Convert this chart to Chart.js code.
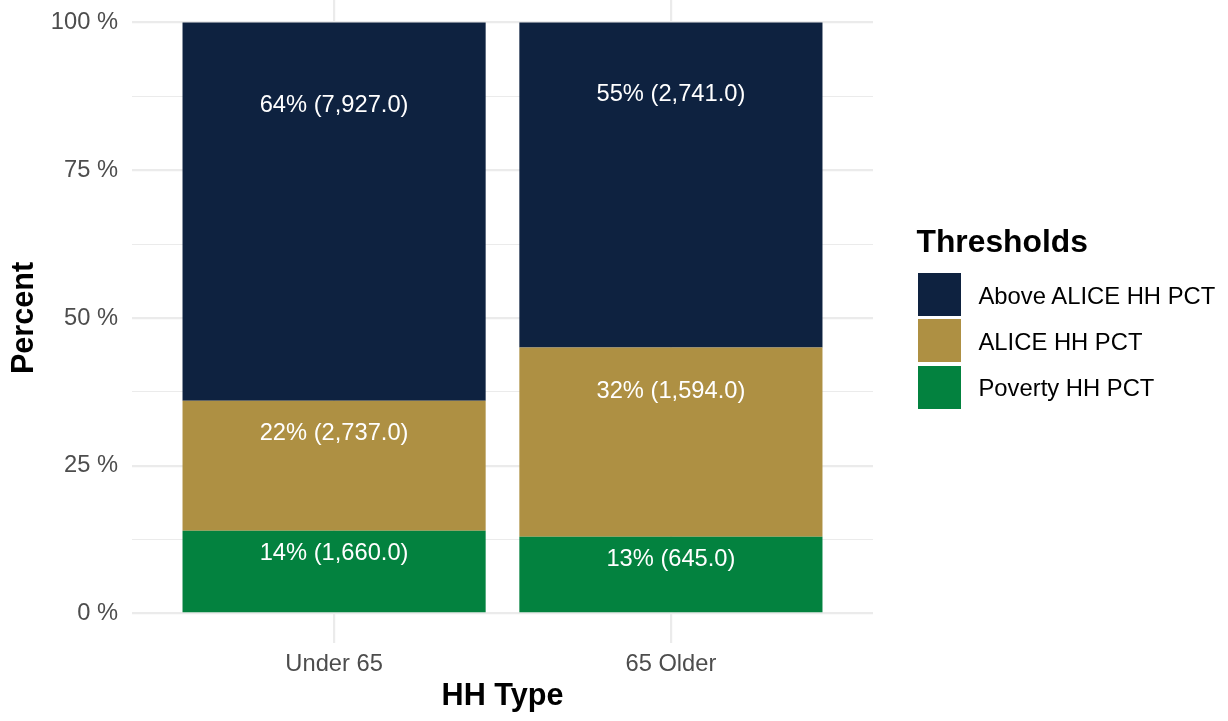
<!DOCTYPE html>
<html>
<head>
<meta charset="utf-8">
<script src="https://cdn.jsdelivr.net/npm/chart.js@4.4.1/dist/chart.umd.min.js"></script>
<style>
    html, body { margin: 0; padding: 0; background: #ffffff; }
    #wrap { position: relative; width: 1228px; height: 721px; overflow: hidden; }
    /* ggplot panel runs a few px above the picture, so the canvas starts above it */
    #chart { position: absolute; left: 0; top: -7px; }
    .legend-title, .legend-label { position: absolute; line-height: 1; white-space: nowrap; color: #000000;
        font-family: "Liberation Sans", Arial, sans-serif; }
    .legend-title { font-size: 31.8px; font-weight: bold; left: 916.5px; top: 225.5px; }
    .legend-label { font-size: 23.8px; left: 978.5px; }
    .legend-key { position: absolute; left: 918px; width: 43px; height: 43px; }
</style>
</head>
<body>
<div id="wrap">
    <canvas id="chart" width="1228" height="728"></canvas>
    <div class="legend-title">Thresholds</div>
</div>
<script>
var categories = ['Under 65', '65 Older'];
var seriesNames = ['Poverty HH PCT', 'ALICE HH PCT', 'Above ALICE HH PCT'];

var povertyPct = [14, 13];
var alicePct = [22, 32];
var abovePct = [64, 55];

var povertyCount = [1660, 645];
var aliceCount = [2737, 1594];
var aboveCount = [7927, 2741];

// where the labels sit in the original (percent units)
var povertyLabelAt = [10.2, 9.2];
var aliceLabelAt = [30.5, 37.6];
var aboveLabelAt = [86.0, 87.8];

var yTicks = [0, 12.5, 25, 37.5, 50, 62.5, 75, 87.5, 100];
var xTicks = [1, 2];

var seriesColors = ['#03823F', '#AE9043', '#0E2240'];

var FONT = '"Liberation Sans", Arial, sans-serif';
Chart.defaults.font.family = FONT;

function fmtCount(n) {
    return n.toLocaleString('en-US', { minimumFractionDigits: 1, maximumFractionDigits: 1 });
}

function makeSeries(i, pct, count, labelAt) {
    return {
        label: seriesNames[i],
        data: pct.map(function (v, j) { return { x: xTicks[j], y: v }; }),
        backgroundColor: seriesColors[i],
        borderWidth: 0,
        barPercentage: 0.9,
        categoryPercentage: 1.0,
        labelAt: labelAt,
        labelText: pct.map(function (v, j) { return v + '% (' + fmtCount(count[j]) + ')'; })
    };
}

var barLabels = {
    id: 'barLabels',
    afterDatasetsDraw: function (chart) {
        var ctx = chart.ctx, yScale = chart.scales.y;
        ctx.save();
        ctx.font = '23.7px ' + FONT;
        ctx.fillStyle = '#ffffff';
        ctx.textAlign = 'center';
        ctx.textBaseline = 'middle';
        chart.data.datasets.forEach(function (ds, i) {
            chart.getDatasetMeta(i).data.forEach(function (bar, j) {
                ctx.fillText(ds.labelText[j], bar.x, yScale.getPixelForValue(ds.labelAt[j]));
            });
        });
        ctx.restore();
    }
};

var chart = new Chart(document.getElementById('chart'), {
    type: 'bar',
    data: {
        datasets: [
            makeSeries(0, povertyPct, povertyCount, povertyLabelAt),
            makeSeries(1, alicePct, aliceCount, aliceLabelAt),
            makeSeries(2, abovePct, aboveCount, aboveLabelAt)
        ]
    },
    options: {
        responsive: false,
        animation: false,
        devicePixelRatio: 1,
        layout: { padding: { left: 0, right: 355, top: 0, bottom: 0 } },
        plugins: {
            legend: { display: false },
            tooltip: { enabled: false }
        },
        scales: {
            x: {
                type: 'linear',
                stacked: true,
                min: 0.4,
                max: 2.6,
                bounds: 'data',
                offset: false,
                afterBuildTicks: function (s) {
                    s.ticks = xTicks.map(function (v) { return { value: v }; });
                },
                afterFit: function (s) {
                    s.height = 78;
                    s.paddingLeft = 0;
                    s.paddingRight = 0;
                },
                grid: { color: '#EBEBEB', lineWidth: 2.2, drawTicks: false, offset: false },
                border: { display: false },
                ticks: {
                    padding: 7,
                    color: '#4D4D4D',
                    font: { size: 23.7 },
                    maxRotation: 0,
                    autoSkip: false,
                    callback: function (v) { return categories[v - 1]; }
                },
                title: {
                    display: true,
                    text: 'HH Type',
                    color: '#000000',
                    font: { size: 30.6, weight: 'bold' },
                    padding: { top: 0, bottom: 6.4 }
                }
            },
            y: {
                stacked: true,
                min: -5,
                max: 105,
                bounds: 'data',
                afterBuildTicks: function (s) {
                    s.ticks = yTicks.map(function (v) { return { value: v }; });
                },
                afterFit: function (s) {
                    s.width = 132;
                    s.paddingTop = 0;
                    s.paddingBottom = 0;
                },
                grid: {
                    color: '#EBEBEB',
                    drawTicks: false,
                    lineWidth: function (c) {
                        return c.tick && c.tick.value % 25 === 0 ? 2.2 : 1.1;
                    }
                },
                border: { display: false },
                ticks: {
                    padding: 14,
                    color: '#4D4D4D',
                    font: { size: 23.7 },
                    autoSkip: false,
                    callback: function (v) { return v % 25 === 0 ? v + ' %' : ''; }
                },
                title: {
                    display: true,
                    text: 'Percent',
                    color: '#000000',
                    font: { size: 30.6, weight: 'bold' },
                    padding: { top: 6.2, bottom: 0 }
                }
            }
        }
    },
    plugins: [barLabels]
});

// legend: top to bottom is the reverse of the stacking order
var wrap = document.getElementById('wrap');
var order = [2, 1, 0];
var labelCenters = [295.3, 341.3, 387.5];
order.forEach(function (i, k) {
    var key = document.createElement('div');
    key.className = 'legend-key';
    key.style.top = (272.7 + k * 46.6) + 'px';
    key.style.background = seriesColors[i];
    wrap.appendChild(key);

    var lab = document.createElement('div');
    lab.className = 'legend-label';
    lab.style.top = (labelCenters[k] - 0.4885 * 23.8) + 'px';
    lab.textContent = seriesNames[i];
    wrap.appendChild(lab);
});
</script>
</body>
</html>
